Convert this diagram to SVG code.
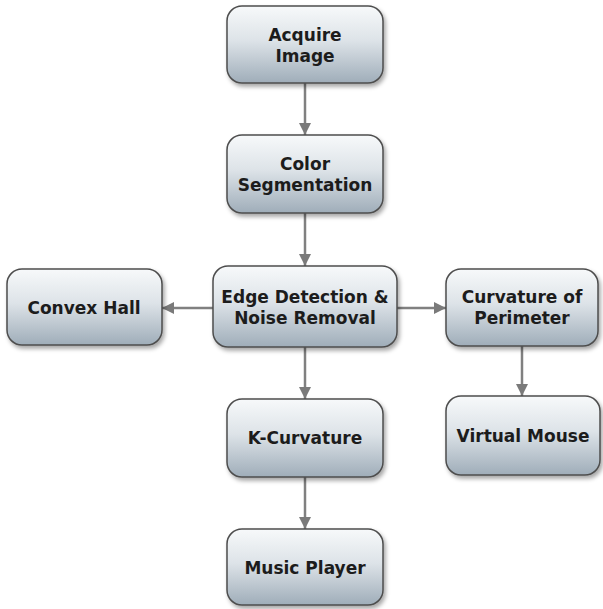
<svg xmlns="http://www.w3.org/2000/svg" width="603" height="609" viewBox="0 0 603 609">
<defs>
<linearGradient id="g" x1="0" y1="0" x2="0" y2="1">
<stop offset="0" stop-color="#f7f9fa"/>
<stop offset="0.45" stop-color="#dde3e8"/>
<stop offset="1" stop-color="#9fadb9"/>
</linearGradient>
<filter id="sh" x="-10%" y="-10%" width="125%" height="130%">
<feDropShadow dx="2" dy="3" stdDeviation="2" flood-color="#000" flood-opacity="0.35"/>
</filter>
<marker id="ah" viewBox="0 0 12 12" refX="12" refY="6" markerWidth="12" markerHeight="12" markerUnits="userSpaceOnUse" orient="auto">
<path d="M0,0 L12,6 L0,12 z" fill="#7a7a7a"/>
</marker>
</defs>
<style>
.box{fill:url(#g);stroke:#4d4d4d;stroke-width:1.5;filter:url(#sh)}
.t{font-family:"DejaVu Sans",Verdana,sans-serif;font-weight:bold;font-size:17px;fill:#1c1c1c;text-anchor:middle}
.c{stroke:#808080;stroke-width:2.5;fill:none;marker-end:url(#ah)}
</style>
<rect width="603" height="609" fill="#ffffff"/>
<g id="connectors">
<line class="c" x1="305" y1="83" x2="305" y2="135"/>
<line class="c" x1="305" y1="213" x2="305" y2="266"/>
<line class="c" x1="213" y1="308" x2="162" y2="308"/>
<line class="c" x1="397" y1="308" x2="446" y2="308"/>
<line class="c" x1="305" y1="347" x2="305" y2="399"/>
<line class="c" x1="522" y1="346" x2="522" y2="396"/>
<line class="c" x1="305" y1="477" x2="305" y2="529"/>
</g>
<g id="acquire">
<rect class="box" x="227" y="6" width="156" height="77" rx="15"/>
<text class="t" x="305" y="41">Acquire</text>
<text class="t" x="305" y="62">Image</text>
</g>
<g id="color">
<rect class="box" x="227" y="135" width="156" height="78" rx="15"/>
<text class="t" x="305" y="170">Color</text>
<text class="t" x="305" y="191">Segmentation</text>
</g>
<g id="edge">
<rect class="box" x="213" y="266" width="184" height="81" rx="15"/>
<text class="t" x="305" y="303">Edge Detection &amp;</text>
<text class="t" x="305" y="324">Noise Removal</text>
</g>
<g id="convex">
<rect class="box" x="7" y="269" width="155" height="76" rx="15"/>
<text class="t" x="84" y="314">Convex Hall</text>
</g>
<g id="curvature">
<rect class="box" x="446" y="269" width="152" height="77" rx="15"/>
<text class="t" x="522" y="303">Curvature of</text>
<text class="t" x="522" y="324">Perimeter</text>
</g>
<g id="kcurv">
<rect class="box" x="227" y="399" width="156" height="78" rx="15"/>
<text class="t" x="305" y="444">K-Curvature</text>
</g>
<g id="mouse">
<rect class="box" x="446" y="396" width="154" height="79" rx="15"/>
<text class="t" x="523" y="442">Virtual Mouse</text>
</g>
<g id="music">
<rect class="box" x="227" y="529" width="156" height="76" rx="15"/>
<text class="t" x="305" y="574">Music Player</text>
</g>
</svg>
